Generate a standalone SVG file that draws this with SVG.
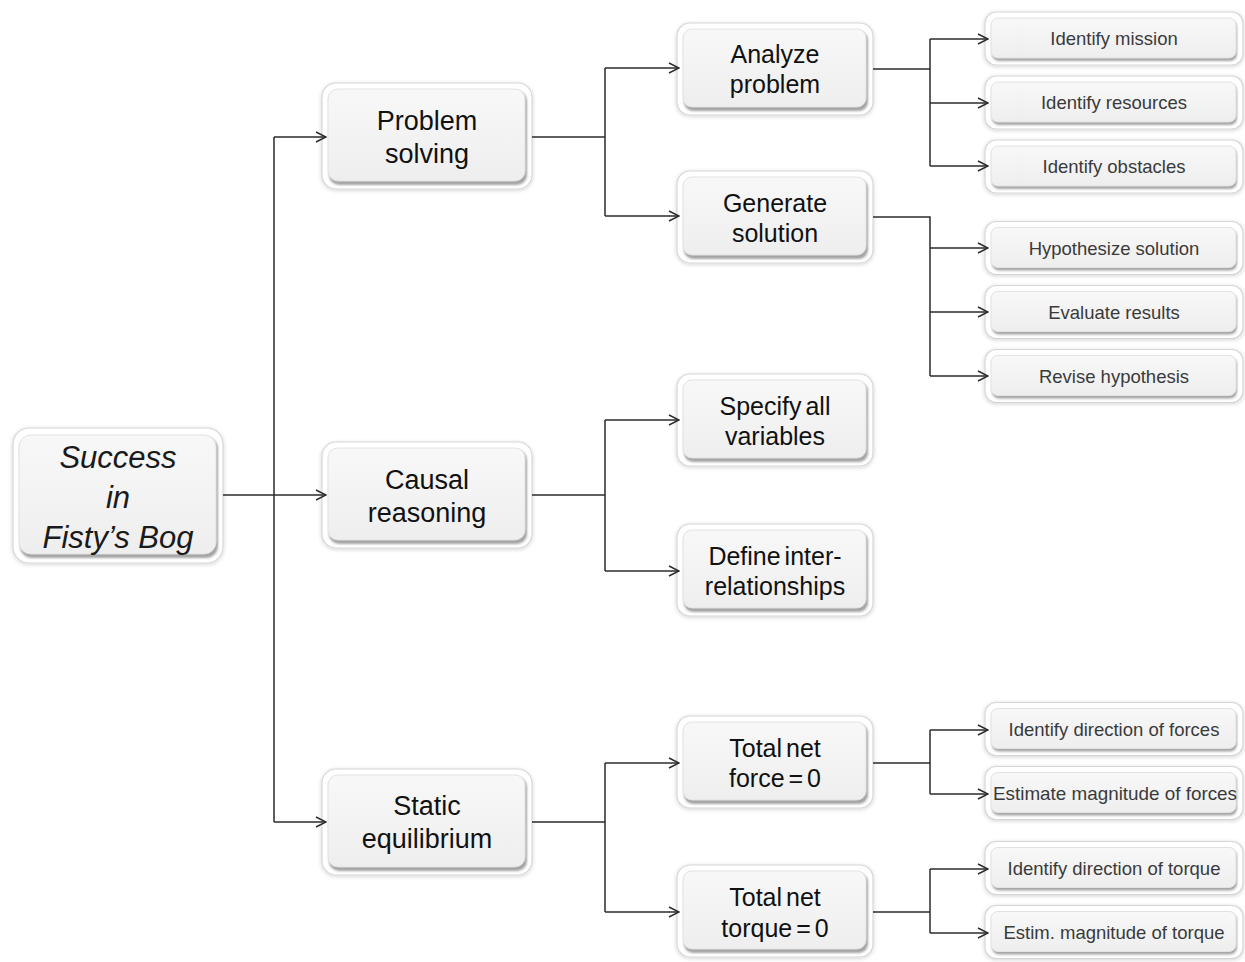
<svg xmlns="http://www.w3.org/2000/svg" width="1245" height="962" viewBox="0 0 1245 962">
  <style>
    .frame { fill: #ffffff; stroke: #d6d6d6; stroke-width: 1.2; }
    .shade { fill: #a4a4a4; }
    .face { fill: url(#faceGrad); stroke: #e2e2e2; stroke-width: 1; }
    .t0 { font-family: "Liberation Sans", Arial, sans-serif; font-style: italic; font-size: 31px; fill: #1a1a1a; text-anchor: middle; }
    .t1 { font-family: "Liberation Sans", Arial, sans-serif; font-size: 27px; fill: #111111; text-anchor: middle; }
    .t2 { font-family: "Liberation Sans", Arial, sans-serif; font-size: 25px; fill: #111111; text-anchor: middle; }
    .tight { word-spacing: -3px; }
    .t3 { font-family: "Liberation Sans", Arial, sans-serif; font-size: 18.5px; fill: #3a3a3a; text-anchor: middle; }
    .link { fill: none; stroke: #2b2b2b; stroke-width: 1.5; }
    .arrow { fill: none; stroke: #2b2b2b; stroke-width: 1.5; marker-end: url(#openArrow); }
  </style>
  <defs>
    <linearGradient id="faceGrad" x1="0" y1="0" x2="0" y2="1">
      <stop offset="0" stop-color="#f8f8f8"/>
      <stop offset="1" stop-color="#eeeeee"/>
    </linearGradient>
    <filter id="halo" x="-10%" y="-10%" width="120%" height="130%">
      <feGaussianBlur in="SourceAlpha" stdDeviation="2"/>
      <feOffset dx="0" dy="1" result="b"/>
      <feComponentTransfer><feFuncA type="linear" slope="0.18"/></feComponentTransfer>
      <feMerge><feMergeNode/><feMergeNode in="SourceGraphic"/></feMerge>
    </filter>
    <filter id="soft" x="-5%" y="-10%" width="110%" height="130%">
      <feGaussianBlur stdDeviation="1"/>
    </filter>
    <marker id="openArrow" viewBox="0 0 12 12" refX="11" refY="6" markerWidth="12" markerHeight="12" markerUnits="userSpaceOnUse" orient="auto">
      <path d="M1,1 L11,6 L1,11" fill="none" stroke="#2b2b2b" stroke-width="1.4"/>
    </marker>
  </defs>

  <rect width="1245" height="962" fill="#ffffff"/>

  <!-- root -->
  <g id="root">
    <rect class="frame" x="13" y="428" width="210" height="135" rx="16" filter="url(#halo)"/>
    <rect class="shade" x="20" y="437" width="198" height="121" rx="12" filter="url(#soft)"/>
    <rect class="face" x="19" y="435" width="197" height="119" rx="12"/>
    <text class="t0" x="118" y="468">Success</text>
    <text class="t0" x="118" y="508">in</text>
    <text class="t0" x="118" y="548">Fisty’s Bog</text>
  </g>

  <!-- first level -->
  <g id="problem-solving">
    <rect class="frame" x="322" y="83" width="210" height="106" rx="14" filter="url(#halo)"/>
    <rect class="shade" x="329" y="91" width="198" height="94" rx="10" filter="url(#soft)"/>
    <rect class="face" x="328" y="89" width="197" height="92" rx="10"/>
    <text class="t1" x="427" y="130">Problem</text>
    <text class="t1" x="427" y="163">solving</text>
  </g>
  <g id="causal-reasoning">
    <rect class="frame" x="322" y="442" width="210" height="106" rx="14" filter="url(#halo)"/>
    <rect class="shade" x="329" y="450" width="198" height="94" rx="10" filter="url(#soft)"/>
    <rect class="face" x="328" y="448" width="197" height="92" rx="10"/>
    <text class="t1" x="427" y="489">Causal</text>
    <text class="t1" x="427" y="522">reasoning</text>
  </g>
  <g id="static-equilibrium">
    <rect class="frame" x="322" y="769" width="210" height="106" rx="14" filter="url(#halo)"/>
    <rect class="shade" x="329" y="777" width="198" height="94" rx="10" filter="url(#soft)"/>
    <rect class="face" x="328" y="775" width="197" height="92" rx="10"/>
    <text class="t1" x="427" y="815">Static</text>
    <text class="t1" x="427" y="848">equilibrium</text>
  </g>

  <!-- second level -->
  <g id="analyze-problem">
    <rect class="frame" x="677" y="23" width="196" height="92" rx="13" filter="url(#halo)"/>
    <rect class="shade" x="684" y="31" width="184" height="80" rx="9" filter="url(#soft)"/>
    <rect class="face" x="683" y="29" width="183" height="78" rx="9"/>
    <text class="t2" x="775" y="63">Analyze</text>
    <text class="t2" x="775" y="93">problem</text>
  </g>
  <g id="generate-solution">
    <rect class="frame" x="677" y="171" width="196" height="92" rx="13" filter="url(#halo)"/>
    <rect class="shade" x="684" y="179" width="184" height="80" rx="9" filter="url(#soft)"/>
    <rect class="face" x="683" y="177" width="183" height="78" rx="9"/>
    <text class="t2" x="775" y="212">Generate</text>
    <text class="t2" x="775" y="242">solution</text>
  </g>
  <g id="specify-variables">
    <rect class="frame" x="677" y="374" width="196" height="92" rx="13" filter="url(#halo)"/>
    <rect class="shade" x="684" y="382" width="184" height="80" rx="9" filter="url(#soft)"/>
    <rect class="face" x="683" y="380" width="183" height="78" rx="9"/>
    <text class="t2 tight" x="775" y="415">Specify all</text>
    <text class="t2" x="775" y="445">variables</text>
  </g>
  <g id="define-interrelationships">
    <rect class="frame" x="677" y="524" width="196" height="92" rx="13" filter="url(#halo)"/>
    <rect class="shade" x="684" y="532" width="184" height="80" rx="9" filter="url(#soft)"/>
    <rect class="face" x="683" y="530" width="183" height="78" rx="9"/>
    <text class="t2 tight" x="775" y="565">Define inter-</text>
    <text class="t2" x="775" y="595">relationships</text>
  </g>
  <g id="total-net-force">
    <rect class="frame" x="677" y="716" width="196" height="92" rx="13" filter="url(#halo)"/>
    <rect class="shade" x="684" y="724" width="184" height="80" rx="9" filter="url(#soft)"/>
    <rect class="face" x="683" y="722" width="183" height="78" rx="9"/>
    <text class="t2 tight" x="775" y="757">Total net</text>
    <text class="t2 tight" x="775" y="787">force = 0</text>
  </g>
  <g id="total-net-torque">
    <rect class="frame" x="677" y="865" width="196" height="92" rx="13" filter="url(#halo)"/>
    <rect class="shade" x="684" y="873" width="184" height="80" rx="9" filter="url(#soft)"/>
    <rect class="face" x="683" y="871" width="183" height="78" rx="9"/>
    <text class="t2 tight" x="775" y="906">Total net</text>
    <text class="t2 tight" x="775" y="937">torque = 0</text>
  </g>

  <!-- third level -->
  <g id="identify-mission">
    <rect class="frame" x="985" y="12" width="258" height="53" rx="11" filter="url(#halo)"/>
    <rect class="shade" x="992" y="20" width="245" height="41" rx="7" filter="url(#soft)"/>
    <rect class="face" x="991" y="18" width="245" height="40" rx="7"/>
    <text class="t3" x="1114" y="45">Identify mission</text>
  </g>
  <g id="identify-resources">
    <rect class="frame" x="985" y="76" width="258" height="53" rx="11" filter="url(#halo)"/>
    <rect class="shade" x="992" y="84" width="245" height="41" rx="7" filter="url(#soft)"/>
    <rect class="face" x="991" y="82" width="245" height="40" rx="7"/>
    <text class="t3" x="1114" y="109">Identify resources</text>
  </g>
  <g id="identify-obstacles">
    <rect class="frame" x="985" y="140" width="258" height="53" rx="11" filter="url(#halo)"/>
    <rect class="shade" x="992" y="148" width="245" height="41" rx="7" filter="url(#soft)"/>
    <rect class="face" x="991" y="146" width="245" height="40" rx="7"/>
    <text class="t3" x="1114" y="173">Identify obstacles</text>
  </g>
  <g id="hypothesize-solution">
    <rect class="frame" x="985" y="221.5" width="258" height="53" rx="11" filter="url(#halo)"/>
    <rect class="shade" x="992" y="229.5" width="245" height="41" rx="7" filter="url(#soft)"/>
    <rect class="face" x="991" y="227.5" width="245" height="40" rx="7"/>
    <text class="t3" x="1114" y="254.5">Hypothesize solution</text>
  </g>
  <g id="evaluate-results">
    <rect class="frame" x="985" y="285.5" width="258" height="53" rx="11" filter="url(#halo)"/>
    <rect class="shade" x="992" y="293.5" width="245" height="41" rx="7" filter="url(#soft)"/>
    <rect class="face" x="991" y="291.5" width="245" height="40" rx="7"/>
    <text class="t3" x="1114" y="318.5">Evaluate results</text>
  </g>
  <g id="revise-hypothesis">
    <rect class="frame" x="985" y="349.5" width="258" height="53" rx="11" filter="url(#halo)"/>
    <rect class="shade" x="992" y="357.5" width="245" height="41" rx="7" filter="url(#soft)"/>
    <rect class="face" x="991" y="355.5" width="245" height="40" rx="7"/>
    <text class="t3" x="1114" y="382.5">Revise hypothesis</text>
  </g>
  <g id="direction-of-forces">
    <rect class="frame" x="985" y="702.5" width="258" height="53" rx="11" filter="url(#halo)"/>
    <rect class="shade" x="992" y="710.5" width="245" height="41" rx="7" filter="url(#soft)"/>
    <rect class="face" x="991" y="708.5" width="245" height="40" rx="7"/>
    <text class="t3" x="1114" y="735.5">Identify direction of forces</text>
  </g>
  <g id="magnitude-of-forces">
    <rect class="frame" x="985" y="766.5" width="258" height="53" rx="11" filter="url(#halo)"/>
    <rect class="shade" x="992" y="774.5" width="245" height="41" rx="7" filter="url(#soft)"/>
    <rect class="face" x="991" y="772.5" width="245" height="40" rx="7"/>
    <text class="t3" x="1115" y="799.5" textLength="244" lengthAdjust="spacingAndGlyphs">Estimate magnitude of forces</text>
  </g>
  <g id="direction-of-torque">
    <rect class="frame" x="985" y="841.5" width="258" height="53" rx="11" filter="url(#halo)"/>
    <rect class="shade" x="992" y="849.5" width="245" height="41" rx="7" filter="url(#soft)"/>
    <rect class="face" x="991" y="847.5" width="245" height="40" rx="7"/>
    <text class="t3" x="1114" y="874.5">Identify direction of torque</text>
  </g>
  <g id="magnitude-of-torque">
    <rect class="frame" x="985" y="905.5" width="258" height="53" rx="11" filter="url(#halo)"/>
    <rect class="shade" x="992" y="913.5" width="245" height="41" rx="7" filter="url(#soft)"/>
    <rect class="face" x="991" y="911.5" width="245" height="40" rx="7"/>
    <text class="t3" x="1114" y="938.5">Estim. magnitude of torque</text>
  </g>

  <!-- connectors -->
  <g id="connectors">
    <path class="link" d="M223,495 H274 M274,137 V822"/>
    <path class="arrow" d="M274,137 H326"/>
    <path class="arrow" d="M274,495 H326"/>
    <path class="arrow" d="M274,822 H326"/>

    <path class="link" d="M532,137 H605 M605,68 V216"/>
    <path class="arrow" d="M605,68 H679"/>
    <path class="arrow" d="M605,216 H679"/>

    <path class="link" d="M532,495 H605 M605,420 V571"/>
    <path class="arrow" d="M605,420 H679"/>
    <path class="arrow" d="M605,571 H679"/>

    <path class="link" d="M532,822 H605 M605,763 V912"/>
    <path class="arrow" d="M605,763 H679"/>
    <path class="arrow" d="M605,912 H679"/>

    <path class="link" d="M873,69 H930 M930,39 V166"/>
    <path class="arrow" d="M930,39 H988"/>
    <path class="arrow" d="M930,103 H988"/>
    <path class="arrow" d="M930,166 H988"/>

    <path class="link" d="M873,217 H930 V376"/>
    <path class="arrow" d="M930,248 H988"/>
    <path class="arrow" d="M930,312 H988"/>
    <path class="arrow" d="M930,376 H988"/>

    <path class="link" d="M873,763 H930 M930,730 V794"/>
    <path class="arrow" d="M930,730 H988"/>
    <path class="arrow" d="M930,794 H988"/>

    <path class="link" d="M873,912 H930 M930,869 V933"/>
    <path class="arrow" d="M930,869 H988"/>
    <path class="arrow" d="M930,933 H988"/>
  </g>
</svg>
